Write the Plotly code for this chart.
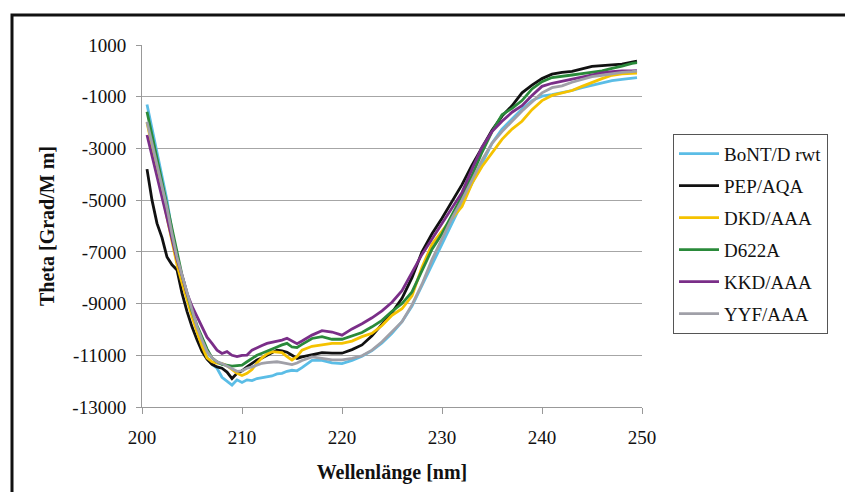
import plotly.graph_objects as go

wavelength = [200.5, 201, 201.5, 202, 202.5, 203, 203.5, 204, 204.5, 205, 205.5, 206, 206.5, 207, 207.5,
              208, 208.5, 209, 209.5, 210, 210.5, 211, 211.5, 212, 212.5, 213, 213.5, 214, 214.5, 215, 215.5,
              216, 217, 218, 219, 220, 221, 222, 223, 224, 225, 226, 227, 228, 229, 230, 231, 232, 233, 234,
              235, 236, 237, 238, 239, 240, 241, 242, 243, 244, 245, 246, 247, 248, 249, 249.5]

bont_rwt = [-1300, -2250, -3150, -4100, -5000, -6200, -7200, -8000, -8700, -9400, -10000, -10600, -11050, -11350,
            -11500, -11850, -12000, -12150, -11950, -12050, -11950, -11980, -11900, -11870, -11820, -11800, -11720,
            -11700, -11620, -11580, -11600, -11480, -11200, -11200, -11290, -11320, -11200, -11040, -10820, -10520,
            -10150, -9700, -9100, -8300, -7450, -6650, -5850, -5100, -4350, -3550, -2800, -2250, -1850, -1480,
            -1150, -980, -920, -850, -760, -650, -550, -470, -380, -330, -280, -260]

pep_aqa = [-3800, -5000, -5900, -6450, -7200, -7500, -7700, -8600, -9300, -9900, -10400, -10850, -11150, -11350,
           -11450, -11500, -11650, -11900, -11700, -11600, -11450, -11300, -11180, -11100, -10990, -10900, -10800,
           -10830, -10880, -11000, -11120, -11060, -10990, -10900, -10920, -10920, -10780, -10600, -10250, -9800,
           -9350, -8800, -8000, -7000, -6300, -5700, -5050, -4400, -3650, -2950, -2300, -1750, -1350, -850, -550,
           -300, -130, -60, -20, 80, 170, 200, 230, 260, 340, 380]

dkd_aaa = [-2000, -2900, -3800, -4700, -5600, -6600, -7500, -8200, -8900, -9500, -10100, -10650, -11100, -11250,
           -11300, -11320, -11400, -11550, -11700, -11780, -11700, -11550, -11300, -11100, -10950, -10860, -10880,
           -10900, -11050, -11180, -11050, -10800, -10650, -10600, -10540, -10540, -10450, -10280, -10150, -9850,
           -9450, -9200, -8700, -7600, -6700, -6200, -5700, -5250, -4350, -3700, -3150, -2650, -2250, -1950, -1500,
           -1150, -950, -850, -760, -600, -440, -300, -170, -120, -100, -90]

d622a = [-1580, -2500, -3400, -4300, -5200, -6200, -7100, -7900, -8600, -9300, -9850, -10300, -10750, -11100,
         -11250, -11350, -11400, -11420, -11400, -11380, -11250, -11120, -11000, -10920, -10850, -10760, -10680,
         -10600, -10540, -10680, -10700, -10580, -10350, -10280, -10380, -10380, -10250, -10120, -9900, -9650,
         -9300, -9000, -8550, -7700, -6900, -6300, -5600, -4850, -4050, -3150, -2350, -1700, -1450, -1150, -700,
         -420, -260, -200, -160, -110, -60, 0, 100, 180, 290, 320]

kkd_aaa = [-2480, -3300, -4100, -4900, -5700, -6500, -7300, -7900, -8600, -9100, -9500, -9900, -10300, -10540,
           -10800, -10930, -10860, -11000, -11050, -11000, -10990, -10800, -10700, -10620, -10540, -10500, -10440,
           -10410, -10340, -10450, -10550, -10450, -10220, -10050, -10100, -10220, -9980, -9780, -9550, -9280,
           -8950, -8500, -7800, -7100, -6500, -5900, -5250, -4700, -3800, -2950, -2350, -1950, -1600, -1350, -950,
           -600, -480, -400, -300, -220, -140, -80, -30, 0, 0, 10]

yyf_aaa = [-1970, -2800, -3650, -4500, -5300, -6300, -7200, -7900, -8600, -9300, -9900, -10400, -10850, -11100,
           -11250, -11320, -11420, -11500, -11620, -11600, -11500, -11450, -11380, -11310, -11280, -11260, -11250,
           -11280, -11310, -11360, -11300, -11200, -11060, -11120, -11180, -11180, -11120, -11020, -10800, -10480,
           -10080, -9700, -9050, -8250, -7300, -6500, -5700, -5000, -4250, -3450, -2800, -2350, -1950, -1550, -1200,
           -850, -650, -580, -440, -330, -220, -170, -110, -60, -30, -10]

series_names = ["BoNT/D rwt", "PEP/AQA", "DKD/AAA", "D622A", "KKD/AAA", "YYF/AAA"]
series_values = [bont_rwt, pep_aqa, dkd_aaa, d622a, kkd_aaa, yyf_aaa]
series_colors = ["#5BBDE6", "#111111", "#F5C200", "#2A8A3A", "#7A2E88", "#A0A0A8"]

x_ticks = [200, 210, 220, 230, 240, 250]
y_ticks = [1000, -1000, -3000, -5000, -7000, -9000, -11000, -13000]

FONT = "Liberation Serif"

fig = go.Figure()
for name, vals, col in zip(series_names, series_values, series_colors):
    fig.add_trace(go.Scatter(x=wavelength, y=vals, mode="lines", name=name, legendgroup=name,
                             line=dict(color=col, width=2.8)))

fig.update_layout(
    width=845, height=492,
    margin=dict(l=142, r=203, t=45, b=85),
    paper_bgcolor="white", plot_bgcolor="white",
    font=dict(family=FONT, size=19, color="#111111"),
    showlegend=True,
    legend=dict(x=1.062, y=0.755, xanchor="left", yanchor="top",
                bordercolor="#555555", borderwidth=1, bgcolor="white",
                font=dict(family=FONT, size=19, color="#111111"),
                tracegroupgap=4.3, itemwidth=40),
    xaxis=dict(range=[200, 250], tickvals=x_ticks, ticktext=[str(v) for v in x_ticks],
               showgrid=False, zeroline=False, showline=True, linecolor="#999999", linewidth=1,
               ticks="outside", ticklen=6, tickcolor="#999999", ticklabelstandoff=7,
               tickfont=dict(family=FONT, size=19),
               title=dict(text="<b>Wellenlänge [nm]</b>", font=dict(family=FONT, size=20), standoff=18)),
    yaxis=dict(range=[-13000, 1000], tickvals=y_ticks, ticktext=[str(v) for v in y_ticks],
               showgrid=True, gridcolor="#A6A6A6", gridwidth=1, zeroline=False,
               showline=True, linecolor="#999999", linewidth=1,
               ticks="outside", ticklen=5, tickcolor="#999999", ticklabelstandoff=6,
               tickfont=dict(family=FONT, size=19),
               title=dict(text="<b>Theta [Grad/M m]</b>", font=dict(family=FONT, size=20), standoff=12)),
    shapes=[dict(type="rect", xref="paper", yref="paper", x0=-0.26, x1=2.0, y0=-1.0, y1=1.083,
                 line=dict(color="#111111", width=3), fillcolor="rgba(0,0,0,0)", layer="below")],
)

fig.write_html("out.html")
